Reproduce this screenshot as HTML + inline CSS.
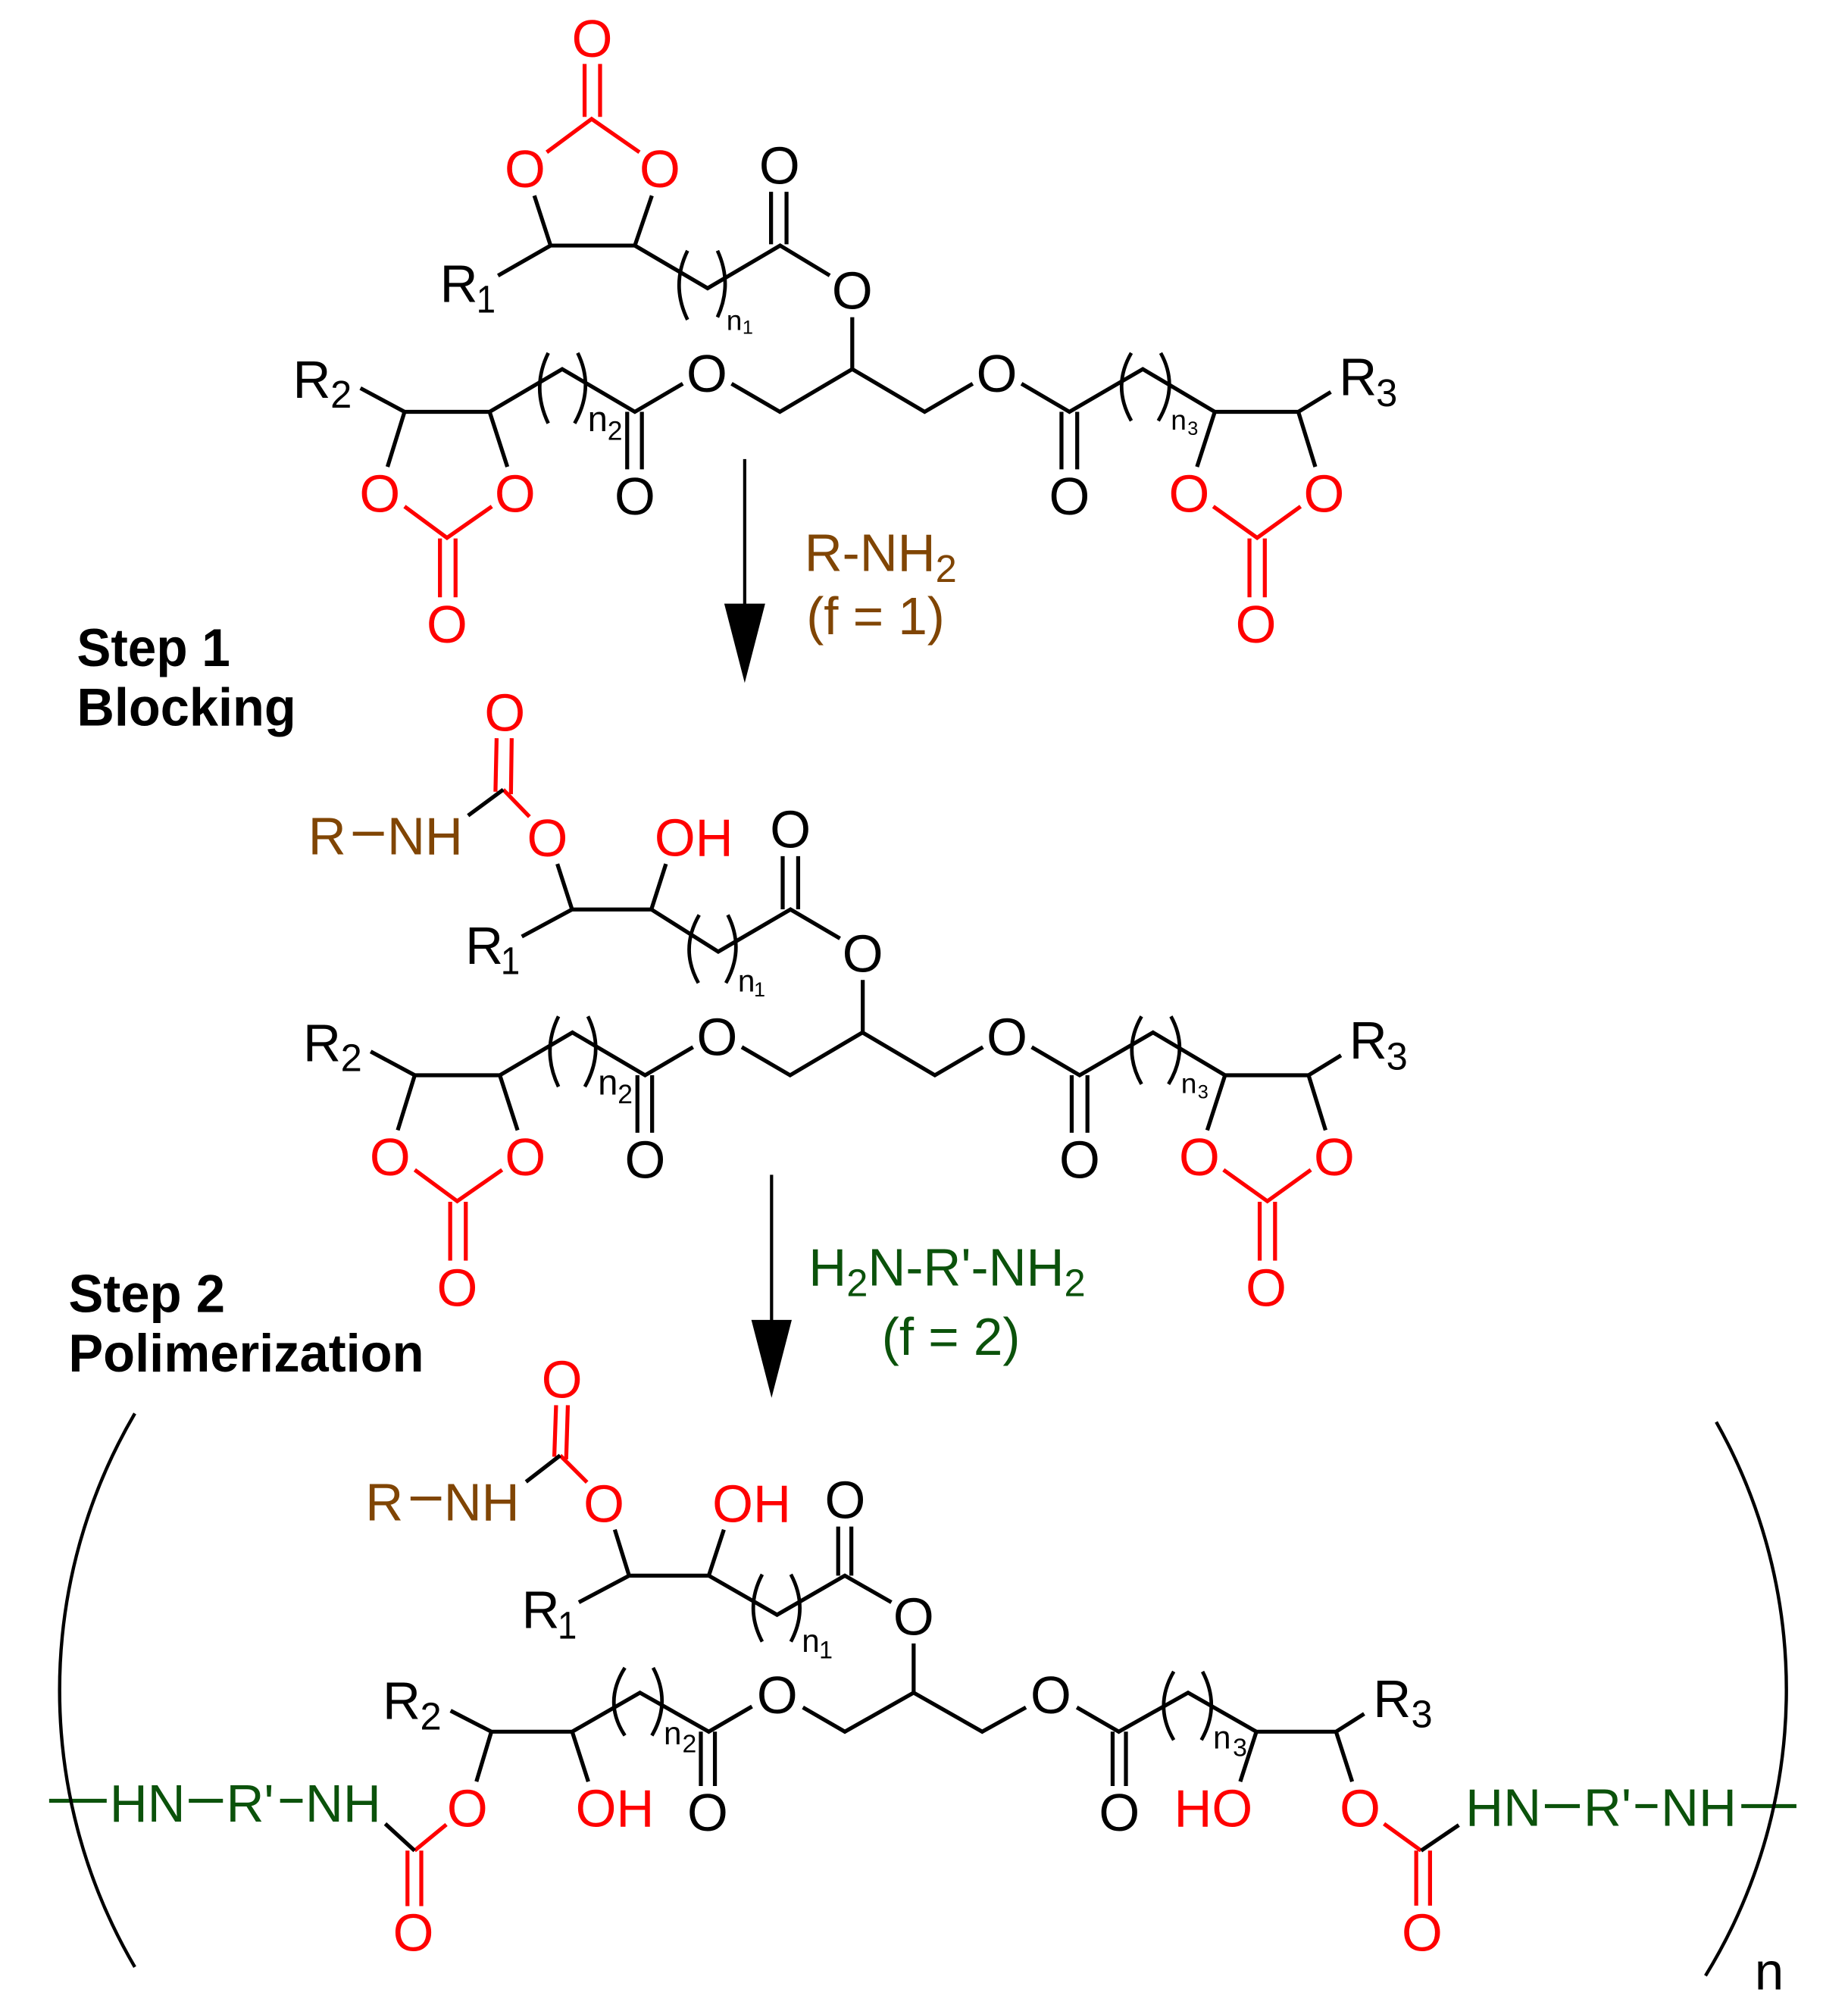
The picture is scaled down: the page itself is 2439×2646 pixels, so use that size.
<!DOCTYPE html>
<html><head><meta charset="utf-8"><title>Reaction scheme</title>
<style>
html,body{margin:0;padding:0;background:#fff}
svg{display:block}
text{font-family:"Liberation Sans",sans-serif;font-size:41px;fill:#000}
.c{text-anchor:middle}
.r{fill:#f00}.b{fill:#804504}.g{fill:#0b520b}
.s{font-size:30px}
.bd{font-weight:bold;font-size:42px}
.k,.kr,.kg,.kb,.p{fill:none;stroke-width:3.1;stroke-linejoin:miter}
.k{stroke:#000}.kr{stroke:#f00}.kg{stroke:#0b520b}.kb{stroke:#804504}
.p{stroke:#000;stroke-width:2.8}
</style></head><body>
<svg xmlns="http://www.w3.org/2000/svg" width="2439" height="2646" viewBox="0 0 1445 1567.7">
<rect width="1445" height="1567.7" fill="#fff"/>

<!-- STRUCTURE 1 top -->
<g>
<path class="kr" d="M457.1 50V91.4M469.2 50V91.4M427.5 119L462.6 93L500 119"/>
<path class="k" d="M417.8 153L430.5 192H496.4L509.7 153M430.5 192L389.4 215.5M496.4 192L553.3 225.4L610 192L648.8 215.4M602.9 150V191M615 150V191M666.4 248V288.6"/>
<path class="p" d="M537.6 196Q524.4 223 537.6 250M561 196Q573 222 561 248"/>
<text class="c r" x="463" y="44.5">O</text>
<text class="c r" x="410.5" y="146.3">O</text>
<text class="c r" x="516" y="146.3">O</text>
<text class="c" x="609.5" y="143.8">O</text>
<text class="c" x="666.4" y="241.3">O</text>
<text x="344" y="236">R</text><text class="s" x="372.5" y="244.3" textLength="15" lengthAdjust="spacingAndGlyphs">1</text>
<text x="568" y="258" style="font-size:22px">n</text><text x="580.5" y="261" style="font-size:15px">1</text>
</g>

<!-- STRUCTURE 1 lower -->
<g>
<path class="k" d="M533.9 300L496.4 322L439.6 288.6L382.8 322H316.3L281.8 303.5M316.3 322L303 365M382.8 322L396.7 365M490.4 322V367M501.9 322V367"/>
<path class="k" d="M572 300L609.8 322L666.4 288.6L723 322L760.6 300M798.7 300L836.2 322L893.6 288.6L949.9 322H1015.2L1040.6 306.5M949.9 322L936 365M1015.2 322L1028.5 365M830 322V367M842.3 322V367"/>
<path class="kr" d="M316.3 396L349.5 420.5L384.6 396M344 421V467M356.2 421V467M948.7 396L983 420.5L1017 396M977 421V467M989 421V467"/>
<path class="p" d="M428.7 276Q415.3 303 428.7 331M451.7 276Q465 303 449.3 331M884.6 276Q869.4 302 884.6 329M907.6 276Q922 302 905.7 329"/>
<text class="c" x="552.7" y="306.3">O</text>
<text class="c" x="779.4" y="306.3">O</text>
<text class="c" x="496.4" y="402.3">O</text>
<text class="c" x="836.2" y="402.3">O</text>
<text class="c r" x="297" y="400.3">O</text>
<text class="c r" x="402.7" y="400.3">O</text>
<text class="c r" x="929.8" y="400.3">O</text>
<text class="c r" x="1035.3" y="400.3">O</text>
<text class="c r" x="349.5" y="502.3">O</text>
<text class="c r" x="982" y="502.3">O</text>
<text x="229" y="311">R</text><text class="s" x="258.4" y="318.8">2</text>
<text x="1047" y="309">R</text><text class="s" x="1076" y="317.5">3</text>
<text x="459.5" y="337.2" style="font-size:28px">n</text><text x="475" y="343.9" style="font-size:21px">2</text>
<text x="915.5" y="336" style="font-size:22px">n</text><text x="928.5" y="340" style="font-size:15px">3</text>
</g>

<!-- Arrow 1 and reagent -->
<path class="k" style="stroke-width:2.5" d="M582.3 359V474"/>
<path d="M566.3 472H598.3L582.3 534Z" fill="#000"/>
<text class="b" x="629" y="446.5">R-NH<tspan class="s" dy="8.5">2</tspan></text>
<text class="b" x="630.5" y="496">(f = 1)</text>

<!-- Step labels -->
<text class="bd" x="60" y="520.7" textLength="120" lengthAdjust="spacingAndGlyphs">Step 1</text>
<text class="bd" x="60" y="567.2" textLength="171.5" lengthAdjust="spacingAndGlyphs">Blocking</text>
<text class="bd" x="53.5" y="1026" textLength="122.5" lengthAdjust="spacingAndGlyphs">Step 2</text>
<text class="bd" x="53.5" y="1072.5" textLength="278" lengthAdjust="spacingAndGlyphs">Polimerization</text>

<!-- STRUCTURE 2 top -->
<g>
<path class="kr" d="M388.3 577.2L387.4 619M400.1 577.2L399.5 621M393.5 617.4L414 638.6"/>
<path class="k" d="M366 637.7L393.5 617.4M435.8 675.5L447.3 711.1H509.3L520.7 675.5M447.3 711.1L408 732.3M509.3 711.1L561.6 744.1L618.1 711.1L656.8 733.8M612 669.4V711M624.1 669.4V711M674.6 766.2V807.9"/>
<path class="p" d="M546.7 715.4Q531.3 742 546.1 768.6M569.1 715.4Q582.5 742 567.6 768.6"/>
<path class="kb" d="M275.9 651.9H300.1"/>
<text class="b" x="241" y="667.9">R</text><text class="b" x="302.7" y="667.9">NH</text>
<text class="c r" x="394.7" y="571.3">O</text>
<text class="c r" x="428" y="669.5">O</text>
<text class="r" x="511.8" y="669.3">OH</text>
<text class="c" x="618" y="662.8">O</text>
<text class="c" x="674.6" y="760">O</text>
<text x="363.8" y="753.5">R</text><text class="s" x="391.5" y="761.6" textLength="15" lengthAdjust="spacingAndGlyphs">1</text>
<text x="577" y="775.2" style="font-size:24px">n</text><text x="589.5" y="779" style="font-size:16px">1</text>
</g>

<!-- STRUCTURE 2 lower (same geometry as structure 1 lower, shifted) -->
<g transform="translate(8,518.7)">
<path class="k" d="M533.9 300L496.4 322L439.6 288.6L382.8 322H316.3L281.8 303.5M316.3 322L303 365M382.8 322L396.7 365M490.4 322V367M501.9 322V367"/>
<path class="k" d="M572 300L609.8 322L666.4 288.6L723 322L760.6 300M798.7 300L836.2 322L893.6 288.6L949.9 322H1015.2L1040.6 306.5M949.9 322L936 365M1015.2 322L1028.5 365M830 322V367M842.3 322V367"/>
<path class="kr" d="M316.3 396L349.5 420.5L384.6 396M344 421V467M356.2 421V467M948.7 396L983 420.5L1017 396M977 421V467M989 421V467"/>
<path class="p" d="M428.7 276Q415.3 303 428.7 331M451.7 276Q465 303 449.3 331M884.6 276Q869.4 302 884.6 329M907.6 276Q922 302 905.7 329"/>
<text class="c" x="552.7" y="306.3">O</text>
<text class="c" x="779.4" y="306.3">O</text>
<text class="c" x="496.4" y="402.3">O</text>
<text class="c" x="836.2" y="402.3">O</text>
<text class="c r" x="297" y="400.3">O</text>
<text class="c r" x="402.7" y="400.3">O</text>
<text class="c r" x="929.8" y="400.3">O</text>
<text class="c r" x="1035.3" y="400.3">O</text>
<text class="c r" x="349.5" y="502.3">O</text>
<text class="c r" x="982" y="502.3">O</text>
<text x="229" y="311">R</text><text class="s" x="258.4" y="318.8">2</text>
<text x="1047" y="309">R</text><text class="s" x="1076" y="317.5">3</text>
<text x="459.5" y="337.2" style="font-size:28px">n</text><text x="475" y="343.9" style="font-size:21px">2</text>
<text x="915.5" y="336" style="font-size:22px">n</text><text x="928.5" y="340" style="font-size:15px">3</text>
</g>

<!-- Arrow 2 and reagent -->
<path class="k" style="stroke-width:2.5" d="M603.3 918.6V1034"/>
<path d="M587.5 1032H619.1L603.3 1093Z" fill="#000"/>
<text class="g" x="632.3" y="1005">H<tspan class="s" dy="8.5">2</tspan><tspan dy="-8.5">N-R'-NH</tspan><tspan class="s" dy="8.5">2</tspan></text>
<text class="g" x="689.5" y="1059.5">(f = 2)</text>

<!-- STRUCTURE 3 -->
<g>
<path class="kr" d="M434.8 1098.7L433.4 1139M444 1098.7L442.7 1141M438 1138L459 1159"/>
<path class="k" d="M411.3 1158.6L438 1138M480.7 1196L491.9 1232H554.2L566 1196M491.9 1232L452.6 1252.8M554.2 1232L607.6 1262.6L660.6 1232L697 1252.8M655.4 1193.6V1232M665.7 1193.6V1232M714.4 1285V1323.5"/>
<path class="p" d="M596 1231Q582 1257.4 596 1283.6M618.4 1231Q632.4 1257.4 618.4 1283.6"/>
<path class="kb" d="M321 1171.7H345"/>
<text class="b" x="285.7" y="1188.7">R</text><text class="b" x="347" y="1188.7">NH</text>
<text class="c r" x="439.4" y="1092.7">O</text>
<text class="c r" x="472.2" y="1190">O</text>
<text class="r" x="557" y="1190">OH</text>
<text class="c" x="660.8" y="1187">O</text>
<text class="c" x="714.4" y="1278.3">O</text>
<text x="408" y="1273">R</text><text class="s" x="436" y="1281.3" textLength="15" lengthAdjust="spacingAndGlyphs">1</text>
<text x="627" y="1291.5" style="font-size:25px">n</text><text x="640.5" y="1296.6" style="font-size:19px">1</text>

<path class="k" d="M588 1334.3L554.2 1354L500.4 1323.5L447.4 1354H384.2L352.3 1337.6M384.2 1354L372.5 1393M447.4 1354L460 1393M548 1354V1396.5M559 1354V1396.5"/>
<path class="k" d="M627.8 1335L660.6 1354L714.4 1323.5L768 1354L802.2 1335M842 1335L874.8 1354L929 1323.5L982.4 1354H1044.7L1066.7 1340M982.4 1354L969.8 1393M1044.7 1354L1057.3 1393M870 1354V1396.5M880.4 1354V1396.5"/>
<path class="p" d="M488.6 1304Q471.4 1331 488.6 1357M510.7 1304Q525 1331 509.7 1357M917.8 1307Q902 1334 917.8 1360.5M940.3 1307Q954.5 1334 939.4 1360.5"/>
<text class="c" x="607.7" y="1339.5">O</text>
<text class="c" x="821.7" y="1339.5">O</text>
<text class="c" x="553.3" y="1431.3">O</text>
<text class="c" x="875.2" y="1431.3">O</text>
<text x="299.2" y="1344">R</text><text class="s" x="328.5" y="1352.3">2</text>
<text x="1073.7" y="1342.5">R</text><text class="s" x="1103.5" y="1350.7">3</text>
<text x="519" y="1364" style="font-size:25px">n</text><text x="533.5" y="1370" style="font-size:20px">2</text>
<text x="948.5" y="1367" style="font-size:25px">n</text><text x="964" y="1373" style="font-size:20px">3</text>
<text class="c r" x="365.4" y="1428.3">O</text>
<text class="r" x="450" y="1428.3">OH</text>
<text class="r" x="918" y="1428.3">HO</text>
<text class="c r" x="1063.5" y="1428.3">O</text>

<!-- left carbamate and green chain -->
<path class="kr" d="M349 1426.6L324.2 1447M318.6 1447V1490.4M329.4 1447V1490.4"/>
<path class="k" d="M301.2 1426L324.2 1447"/>
<text class="c r" x="323.2" y="1525.3">O</text>
<path class="kg" d="M38.4 1408H83.4M147.6 1408H174.3M219 1408H236.6"/>
<text class="g" x="85.7" y="1424.3">HN</text><text class="g" x="176.8" y="1424.3">R'</text><text class="g" x="238.7" y="1424.3">NH</text>

<!-- right carbamate and green chain -->
<path class="kr" d="M1082.2 1426L1111.2 1447M1107.4 1447V1490M1118.2 1447V1490"/>
<path class="k" d="M1111.2 1447L1140.7 1427"/>
<text class="c r" x="1112" y="1525.3">O</text>
<path class="kg" d="M1208 1412.2H1235.3M1278.8 1412.2H1296M1361.6 1412.2H1404.7"/>
<text class="g" x="1145.9" y="1427.6">HN</text><text class="g" x="1238.2" y="1427.6">R'</text><text class="g" x="1298.7" y="1427.6">NH</text>
</g>

<!-- Big polymer brackets -->
<path class="k" style="stroke-width:2.6" d="M105.4 1105.2A427.5 427.5 0 0 0 105.4 1538"/>
<path class="k" style="stroke-width:2.6" d="M1342 1111.8A427 427 0 0 1 1333.6 1544.8"/>
<text x="1372" y="1555.5">n</text>
</svg>
</body></html>
